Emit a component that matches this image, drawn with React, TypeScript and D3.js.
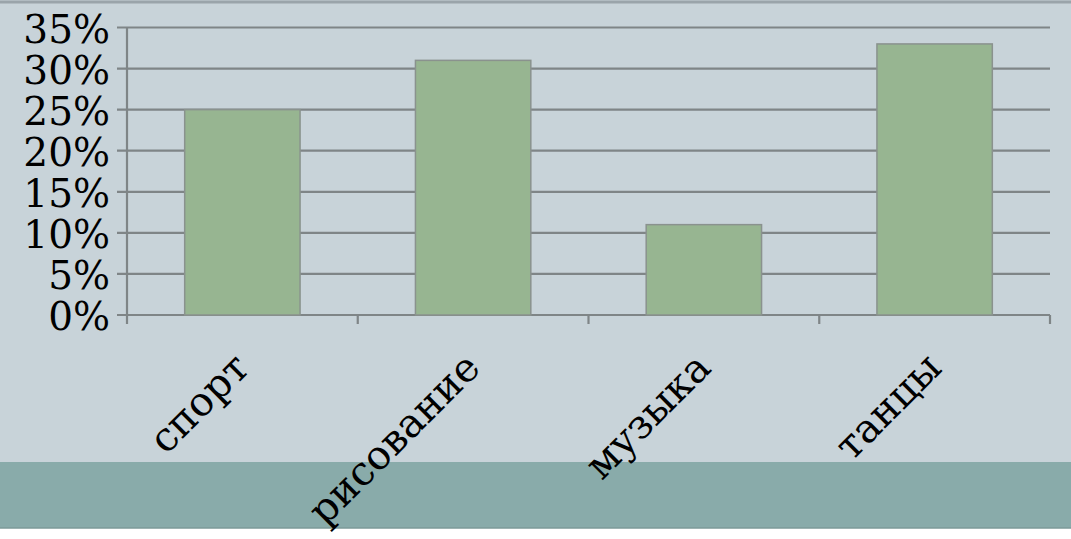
import * as d3 from "d3";

const categories = ["спорт", "рисование", "музыка", "танцы"];
const values = [0.25, 0.31, 0.11, 0.33];
const yTicks = [0, 0.05, 0.1, 0.15, 0.2, 0.25, 0.3, 0.35];

export default function App() {
  const width = 1071;
  const height = 539;
  const marginLeft = 127;
  const plotRight = 1050;
  const plotTop = 27.5;
  const plotBottom = 315;

  const x = d3
    .scaleBand<string>()
    .domain(categories)
    .range([marginLeft, plotRight])
    .paddingInner(0.5)
    .paddingOuter(0.25);

  const y = d3.scaleLinear().domain([0, 0.35]).range([plotBottom, plotTop]);
  const fmt = d3.format(".0%");

  // category boundaries for the small tick marks under the axis
  const step = (plotRight - marginLeft) / categories.length;
  const bounds = d3.range(categories.length + 1).map((i) => marginLeft + i * step);

  const font = "'DejaVu Serif', Georgia, serif";
  const gridColor = "#7f8587";

  return (
    <>
      <style>{"body{margin:0}"}</style>
      <svg width={width} height={height} style={{ display: "block" }}>
        <rect x={0} y={0} width={width} height={height} fill="#ffffff" />
        <rect x={0} y={0} width={width} height={528} fill="#c8d3d9" />
        <line x1={0} x2={width} y1={2} y2={2} stroke="#9aa4aa" strokeWidth={3} />
        <rect x={0} y={462} width={width} height={66} fill="#89abaa" />
        <line x1={0} x2={width} y1={528} y2={528} stroke="#7c9a98" strokeWidth={1.5} />

        {/* gridlines */}
        {yTicks.map((t) => (
          <line
            key={t}
            x1={117}
            x2={plotRight}
            y1={y(t)}
            y2={y(t)}
            stroke={gridColor}
            strokeWidth={2.2}
          />
        ))}

        {/* y axis */}
        <line x1={marginLeft} x2={marginLeft} y1={plotTop} y2={324} stroke={gridColor} strokeWidth={2.2} />
        {bounds.slice(1).map((b) => (
          <line key={b} x1={b} x2={b} y1={plotBottom} y2={324} stroke={gridColor} strokeWidth={2.2} />
        ))}

        {/* bars */}
        {categories.map((c, i) => (
          <rect
            key={c}
            x={x(c)}
            y={y(values[i])}
            width={x.bandwidth()}
            height={y(0) - y(values[i])}
            fill="#97b591"
            stroke="#8a928e"
            strokeWidth={1.5}
          />
        ))}

        {/* y labels */}
        {yTicks.map((t) => (
          <text
            key={t}
            x={110}
            y={y(t) + 15}
            textAnchor="end"
            fontFamily={font}
            fontSize={39}
            fill="#000"
          >
            {fmt(t)}
          </text>
        ))}

        {/* category labels */}
        {categories.map((c) => {
          const cx = (x(c) ?? 0) + x.bandwidth() / 2 + 9;
          const cy = 370;
          return (
            <text
              key={c}
              transform={`translate(${cx},${cy}) rotate(-45)`}
              textAnchor="end"
              fontFamily={font}
              fontSize={40}
              fill="#000"
            >
              {c}
            </text>
          );
        })}
      </svg>
    </>
  );
}
